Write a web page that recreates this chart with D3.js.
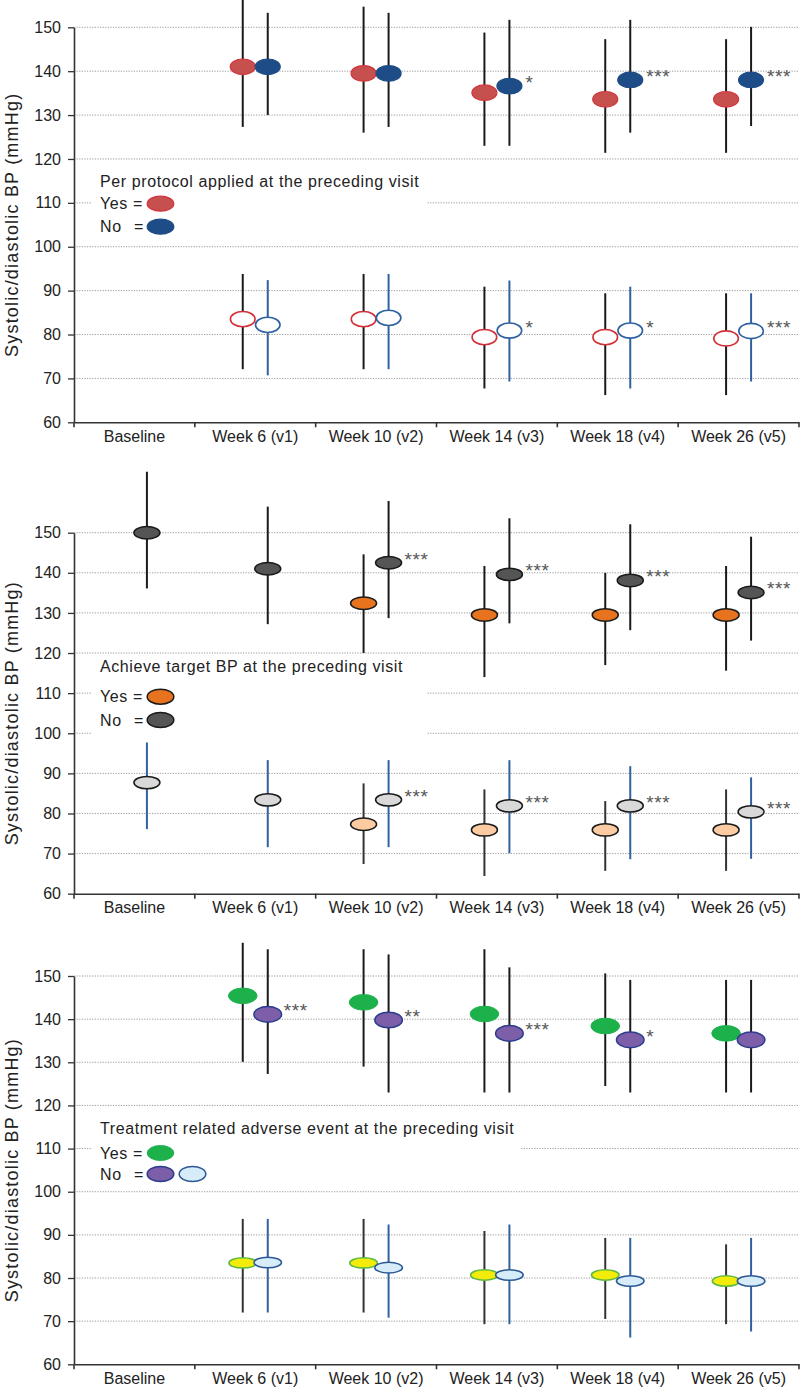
<!DOCTYPE html>
<html><head><meta charset="utf-8">
<script src="https://cdn.jsdelivr.net/npm/d3@7"></script>
<style>
body{margin:0;background:#fff}
svg{display:block}
text{font-family:"Liberation Sans",Arial,sans-serif;fill:#222}
</style>
</head><body><svg id="chart" width="800" height="1387"></svg>
<script>
const categories = ["Baseline","Week 6 (v1)","Week 10 (v2)","Week 14 (v3)","Week 18 (v4)","Week 26 (v5)"];
const yTicks = [60,70,80,90,100,110,120,130,140,150];

// each entry: [low, mean, high]; null = no value
const p1SysYes = [null,[127.3,141.0,157.5],[126.0,139.5,154.7],[123.0,135.1,148.8],[121.4,133.6,147.3],[121.4,133.6,147.3]];
const p1SysNo  = [null,[130.0,141.0,153.3],[127.3,139.5,153.3],[123.0,136.6,151.7],[126.0,138.0,151.7],[127.5,138.0,150.1]];
const p1DiaYes = [null,[72.1,83.5,93.8],[72.1,83.5,93.8],[67.7,79.4,90.9],[66.2,79.4,89.4],[66.2,79.1,89.4]];
const p1DiaNo  = [null,[70.7,82.2,92.4],[72.1,83.8,93.8],[69.3,80.9,92.3],[67.7,80.9,90.9],[69.3,80.8,89.4]];
const p1SysStars = ["","","","*","***","***"];
const p1DiaStars = ["","","","*","*","***"];

const p2SysYes = [null,null,[120.0,132.4,144.6],[114.0,129.5,141.7],[117.0,129.5,140.0],[115.6,129.5,141.7]];
const p2SysNo  = [[136.1,150.0,165.2],[127.2,141.0,156.5],[128.7,142.5,157.9],[127.4,139.6,153.6],[125.7,138.1,152.1],[123.1,135.1,149.0]];
const p2DiaYes = [null,null,[67.4,77.3,87.5],[64.4,75.9,86.0],[65.7,75.9,83.1],[65.7,75.9,86.0]];
const p2DiaNo  = [[76.1,87.7,97.7],[71.6,83.4,93.3],[71.6,83.4,93.3],[70.1,81.9,93.3],[68.6,81.9,91.8],[68.7,80.4,89.0]];
const p2SysStars = ["","","***","***","***","***"];
const p2DiaStars = ["","","***","***","***","***"];

const p3SysYes = [null,[130.1,145.4,157.7],[129.0,143.9,156.2],[123.0,141.2,156.2],[124.5,138.4,150.6],[123.0,136.7,149.1]];
const p3SysNo  = [null,[127.3,141.1,156.2],[123.0,139.8,155.0],[123.0,136.7,152.0],[123.0,135.2,149.1],[123.0,135.2,149.1]];
const p3DiaYes = [null,[72.0,83.5,93.7],[72.0,83.5,93.7],[69.3,80.7,90.9],[70.5,80.7,89.3],[69.3,79.3,87.8]];
const p3DiaNo  = [null,[72.0,83.6,93.7],[70.8,82.4,92.4],[69.3,80.7,92.4],[66.2,79.3,89.3],[67.6,79.3,89.3]];
const p3SysStars = ["","***","**","***","*",""];
const p3DiaStars = ["","","","","",""];

const legendTitles = ["Per protocol applied at the preceding visit","Achieve target BP at the preceding visit","Treatment related adverse event at the preceding visit"];
const yesLabel = "Yes =";
const noLabel = "No";
const yTitle = "Systolic/diastolic BP (mmHg)";

const svg = d3.select("#chart");
const FONT = '"Liberation Sans",Arial,sans-serif';
const x = d3.scaleBand().domain(categories).range([74, 799]);
const xc = c => x(c) + x.bandwidth() / 2;

const BAR = "#1a1a1a", BLUEBAR = "#2f62a0";

const panels = [
  {
    range: [422.3, 27.3],
    series: {sysYes: p1SysYes, sysNo: p1SysNo, diaYes: p1DiaYes, diaNo: p1DiaNo},
    stars: {sysNo: p1SysStars, diaNo: p1DiaStars},
    style: {
      sysYes: {fill:"#c5504e", stroke:"#d3333b", sw:1.2, rx:12.5, ry:7.8, bar:BAR},
      sysNo:  {fill:"#1e4c86", stroke:"#1e4c86", sw:1.2, rx:12.5, ry:7.8, bar:BAR},
      diaYes: {fill:"#ffffff", stroke:"#d22f38", sw:1.6, rx:12.3, ry:7.6, bar:BAR},
      diaNo:  {fill:"#ffffff", stroke:"#2e61a1", sw:1.6, rx:12.3, ry:7.6, bar:BLUEBAR}
    },
    legend: {
      box: [92, 166, 427, 240], title: legendTitles[0], titleY: 181.7,
      rows: [
        {label: yesLabel, y: 203.7, marks: [{fill:"#c5504e", stroke:"#d3333b", sw:1.2}]},
        {label: noLabel, eq: true, y: 226.7, marks: [{fill:"#1e4c86", stroke:"#1e4c86", sw:1.2}]}
      ]
    }
  },
  {
    range: [893.7, 532.7],
    series: {sysYes: p2SysYes, sysNo: p2SysNo, diaYes: p2DiaYes, diaNo: p2DiaNo},
    stars: {sysNo: p2SysStars, diaNo: p2DiaStars},
    style: {
      sysYes: {fill:"#e8731f", stroke:"#1a1a1a", sw:1.5, rx:13, ry:6.2, bar:BAR},
      sysNo:  {fill:"#555555", stroke:"#1a1a1a", sw:1.5, rx:13, ry:6.2, bar:BAR},
      diaYes: {fill:"#fdcba2", stroke:"#1a1a1a", sw:1.5, rx:13, ry:6.2, bar:"#333"},
      diaNo:  {fill:"#d9d9d9", stroke:"#1a1a1a", sw:1.5, rx:13, ry:6.2, bar:BLUEBAR}
    },
    legend: {
      box: [92, 657, 427, 745], title: legendTitles[1], titleY: 666.7,
      rows: [
        {label: yesLabel, y: 696.7, marks: [{fill:"#e8731f", stroke:"#1a1a1a", sw:1.5}]},
        {label: noLabel, eq: true, y: 720, marks: [{fill:"#555555", stroke:"#1a1a1a", sw:1.5}]}
      ]
    }
  },
  {
    range: [1364.3, 976],
    series: {sysYes: p3SysYes, sysNo: p3SysNo, diaYes: p3DiaYes, diaNo: p3DiaNo},
    stars: {sysNo: p3SysStars, diaNo: p3DiaStars},
    style: {
      sysYes: {fill:"#1db14b", stroke:"#1db14b", sw:1, rx:14.3, ry:7.8, bar:BAR},
      sysNo:  {fill:"#7d5ea8", stroke:"#2b3c8e", sw:1.5, rx:13.8, ry:7.8, bar:BAR},
      diaYes: {fill:"#f3ec0a", stroke:"#5ab843", sw:1.5, rx:13.8, ry:5.2, bar:"#333"},
      diaNo:  {fill:"#d6ecf8", stroke:"#2c5896", sw:1.5, rx:13.8, ry:5.3, bar:BLUEBAR}
    },
    legend: {
      box: [92, 1114, 520, 1186], title: legendTitles[2], titleY: 1128.3,
      rows: [
        {label: yesLabel, y: 1153, marks: [{fill:"#1db14b", stroke:"#1db14b", sw:1}]},
        {label: noLabel, eq: true, y: 1174, marks: [{fill:"#7d5ea8", stroke:"#2b3c8e", sw:1.5}, {fill:"#d6ecf8", stroke:"#2c5896", sw:1.5}]}
      ]
    }
  }
];

function drawPanel(p) {
  const y = d3.scaleLinear().domain([60, 150]).range(p.range);
  const g = svg.append("g");

  // gridlines
  g.append("g").selectAll("line").data(yTicks.filter(t => t > 60)).join("line")
    .attr("x1", 74).attr("x2", 799)
    .attr("y1", d => y(d)).attr("y2", d => y(d))
    .attr("stroke", "#9a9a9a").attr("stroke-width", 1)
    .attr("stroke-dasharray", "1.2,1.4");

  // legend background
  const L = p.legend;
  g.append("rect").attr("x", L.box[0]).attr("y", L.box[1])
    .attr("width", L.box[2] - L.box[0]).attr("height", L.box[3] - L.box[1])
    .attr("fill", "#fff");

  // y axis
  const ya = g.append("g").attr("transform", "translate(74,0)")
    .call(d3.axisLeft(y).tickValues(yTicks).tickSize(6).tickSizeOuter(0).tickPadding(7));
  ya.attr("font-family", FONT).attr("font-size", 16).attr("color", "#222");
  ya.select(".domain").attr("stroke", "#333").attr("stroke-width", 1.6);
  ya.selectAll(".tick line").attr("stroke", "#333").attr("stroke-width", 1.3);

  // x axis
  const xa = g.append("g").attr("transform", `translate(0,${y(60)})`)
    .call(d3.axisBottom(x).tickSize(0).tickSizeOuter(0).tickPadding(8));
  xa.attr("font-family", FONT).attr("font-size", 16).attr("color", "#222");
  xa.select(".domain").attr("stroke", "#333").attr("stroke-width", 1.6);
  const bounds = categories.map(c => x(c)).concat([x.range()[1]]);
  g.append("g").selectAll("line").data(bounds).join("line")
    .attr("x1", d => d).attr("x2", d => d)
    .attr("y1", y(60)).attr("y2", y(60) + 5)
    .attr("stroke", "#333").attr("stroke-width", 1.6);

  // y title
  g.append("text")
    .attr("transform", `translate(17.5,${(p.range[0] + p.range[1]) / 2}) rotate(-90)`)
    .attr("text-anchor", "middle").attr("font-size", 18)
    .attr("letter-spacing", 1.2)
    .text(yTitle);

  const keys = ["sysYes", "sysNo", "diaYes", "diaNo"];
  const pts = k => categories.map((c, i) => ({c, i, v: p.series[k][i]})).filter(d => d.v);
  const off = k => k.endsWith("Yes") ? -12.5 : 12.5;

  // error bars
  keys.forEach(k => {
    const st = p.style[k];
    g.append("g").selectAll("line").data(pts(k)).join("line")
      .attr("x1", d => xc(d.c) + off(k)).attr("x2", d => xc(d.c) + off(k))
      .attr("y1", d => y(d.v[0])).attr("y2", d => y(d.v[2]))
      .attr("stroke", st.bar).attr("stroke-width", 2);
  });
  // means
  keys.forEach(k => {
    const st = p.style[k];
    g.append("g").selectAll("ellipse").data(pts(k)).join("ellipse")
      .attr("cx", d => xc(d.c) + off(k)).attr("cy", d => y(d.v[1]))
      .attr("rx", st.rx).attr("ry", st.ry)
      .attr("fill", st.fill).attr("stroke", st.stroke).attr("stroke-width", st.sw);
  });
  // significance stars
  Object.keys(p.stars).forEach(k => {
    const s = p.stars[k];
    g.append("g").selectAll("text").data(pts(k).filter(d => s[d.i])).join("text")
      .attr("x", d => xc(d.c) + off(k) + 16)
      .attr("y", d => y(d.v[1]) + 3)
      .attr("font-size", 19).attr("letter-spacing", 0.6)
      .style("fill", "#555")
      .text(d => s[d.i]);
  });

  // legend
  g.append("text").attr("x", 100).attr("y", L.titleY + 5.6)
    .attr("font-size", 16).attr("letter-spacing", 0.6).text(L.title);
  L.rows.forEach(r => {
    g.append("text").attr("x", 100).attr("y", r.y + 5.6)
      .attr("font-size", 16).attr("letter-spacing", 0.6).text(r.label);
    if (r.eq) g.append("text").attr("x", 134).attr("y", r.y + 5.6)
      .attr("font-size", 16).text("=");
    r.marks.forEach((m, j) => {
      g.append("ellipse").attr("cx", 160.5 + j * 32).attr("cy", r.y)
        .attr("rx", 13.3).attr("ry", 7.5)
        .attr("fill", m.fill).attr("stroke", m.stroke).attr("stroke-width", m.sw);
    });
  });
}

panels.forEach(drawPanel);
</script>
</body></html>
